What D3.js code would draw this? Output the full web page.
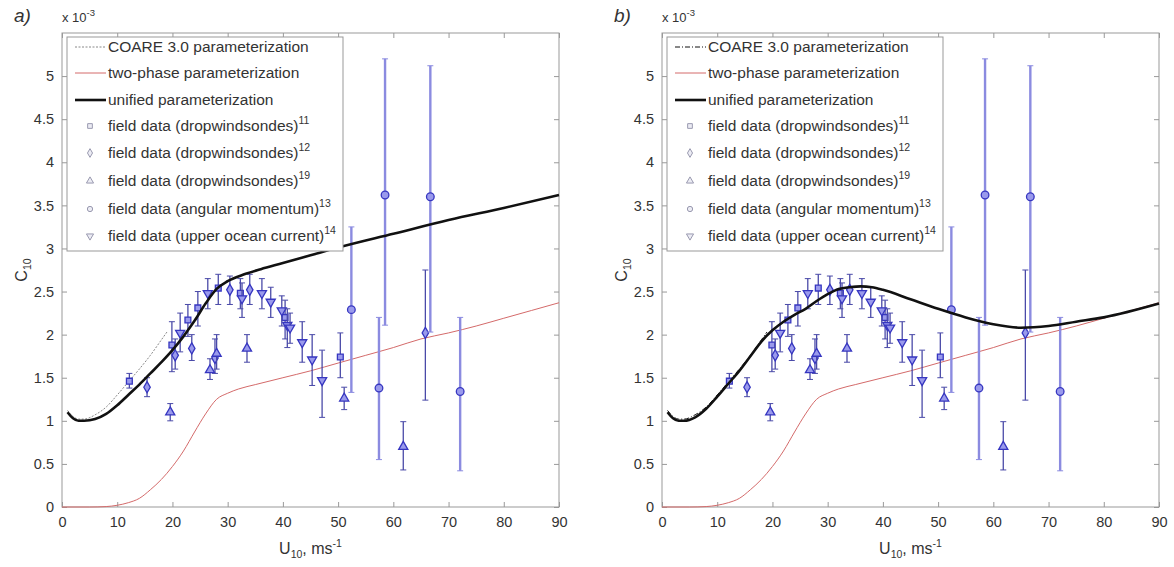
<!DOCTYPE html>
<html lang="en">
<head>
<meta charset="UTF-8">
<script src="https://d3js.org/d3.v7.min.js"></script>
<style>
  body { margin: 0; background: #fff; }
  text { font-family: "Liberation Sans", Arial, sans-serif; fill: #333; }
</style>
</head>
<body>
<div id="chart"></div>
<script>
// ---- curves (C10 in units of 1e-3) ----
const coareU = [1, 2, 3, 4, 6, 8, 10, 12, 14, 16, 18, 19];
const coareC = [1.12, 1.05, 1.02, 1.02, 1.07, 1.16, 1.3, 1.45, 1.6, 1.76, 1.94, 2.03];

const twoPhaseU = [0, 5, 8, 10, 12, 14, 16, 18, 20, 22, 24, 26, 28, 30, 32, 35, 40, 45, 50, 55, 60, 65, 70, 75, 80, 85, 90];
const twoPhaseC = [0, 0, 0.005, 0.02, 0.05, 0.1, 0.2, 0.32, 0.47, 0.65, 0.87, 1.08, 1.25, 1.32, 1.37, 1.42, 1.5, 1.58, 1.67, 1.76, 1.85, 1.95, 2.02, 2.1, 2.19, 2.28, 2.37];

const unifiedAU = [1, 2, 3, 4, 6, 8, 10, 12, 14, 16, 18, 20, 22, 24, 26, 28, 30, 33, 36, 40, 45, 50, 60, 70, 80, 90];
const unifiedAC = [1.1, 1.03, 1.0, 1.0, 1.02, 1.08, 1.18, 1.3, 1.42, 1.55, 1.68, 1.82, 1.98, 2.16, 2.36, 2.53, 2.62, 2.7, 2.76, 2.83, 2.92, 3.01, 3.17, 3.33, 3.47, 3.62];

const unifiedBU = [1, 2, 3, 4, 6, 8, 10, 12, 14, 16, 18, 20, 22, 24, 26, 28, 30, 32, 34, 36, 38, 40, 45, 50, 55, 60, 65, 70, 75, 80, 90];
const unifiedBC = [1.1, 1.03, 1.0, 1.0, 1.04, 1.14, 1.28, 1.43, 1.58, 1.75, 1.92, 2.05, 2.15, 2.23, 2.3, 2.39, 2.47, 2.53, 2.55, 2.56, 2.55, 2.52, 2.41, 2.3, 2.2, 2.12, 2.08, 2.1, 2.15, 2.2, 2.36];

// ---- field data: [U10, C10, low, high] ----
const dropwind11 = [[12.2, 1.46, 1.38, 1.55], [19.9, 1.88, 1.57, 2.15], [22.8, 2.17, 1.98, 2.35], [24.6, 2.31, 2.1, 2.5],
  [28.3, 2.54, 2.35, 2.7], [32.3, 2.48, 2.3, 2.65], [40.4, 2.2, 1.95, 2.4], [50.4, 1.74, 1.5, 2.02]];
const dropwind12 = [[15.4, 1.39, 1.28, 1.5], [20.5, 1.76, 1.6, 1.95], [23.5, 1.84, 1.7, 2.0], [27.7, 1.73, 1.55, 1.95],
  [30.4, 2.52, 2.35, 2.68], [34, 2.52, 2.35, 2.7], [65.8, 2.02, 1.24, 2.75]];
const dropwind19 = [[19.6, 1.1, 1.0, 1.2], [26.8, 1.59, 1.48, 1.72], [28, 1.78, 1.6, 2.0], [33.5, 1.84, 1.68, 2.0],
  [51.1, 1.26, 1.13, 1.39], [61.8, 0.7, 0.43, 0.99]];
const angularMom = [[52.4, 2.29, 1.33, 3.25], [57.4, 1.38, 0.55, 2.2], [58.5, 3.62, 2.11, 5.2], [66.7, 3.6, 2.03, 5.12], [72.1, 1.34, 0.42, 2.2]];
const oceanCurrent = [[21.4, 2.02, 1.8, 2.25], [26.4, 2.48, 2.3, 2.65], [32.6, 2.42, 2.2, 2.6], [36.2, 2.48, 2.3, 2.65],
  [37.8, 2.38, 2.2, 2.55], [39.8, 2.28, 2.1, 2.45], [40.8, 2.11, 1.85, 2.3], [41.3, 2.08, 1.9, 2.25],
  [43.5, 1.91, 1.68, 2.15], [45.3, 1.71, 1.41, 2.0], [47.1, 1.47, 1.04, 1.82]];

const xTicks = d3.range(0, 91, 10);
const yTicks = d3.range(0, 5.01, 0.5);

const width = 1174, height = 567;
const svg = d3.select("#chart").append("svg")
  .attr("width", width).attr("height", height)
  .attr("viewBox", [0, 0, width, height]);

const markerSets = [
  { data: dropwind11,   symbol: d3.symbolSquare,   size: 34, ref: "11", label: "field data (dropwindsondes)", bar: "dark" },
  { data: dropwind12,   symbol: d3.symbolDiamond,  size: 36, ref: "12", label: "field data (dropwindsondes)", bar: "dark" },
  { data: dropwind19,   symbol: d3.symbolTriangle, size: 36, ref: "19", label: "field data (dropwindsondes)", bar: "dark" },
  { data: angularMom,   symbol: d3.symbolCircle,   size: 46, ref: "13", label: "field data (angular momentum)", bar: "light" },
  { data: oceanCurrent, symbol: d3.symbolTriangle, size: 36, ref: "14", label: "field data (upper ocean current)", bar: "dark", flip: true }
];

function drawPanel(ox, tag, unifiedU, unifiedC, coareStyle) {
  const left = ox + 62, right = ox + 559, top = 33, bottom = 507;
  const x = d3.scaleLinear().domain([0, 90]).range([left, right]);
  const y = d3.scaleLinear().domain([0, 5.5]).range([bottom, top]);
  const g = svg.append("g");

  // axes box with inward ticks (MATLAB style)
  g.append("rect").attr("x", left).attr("y", top).attr("width", right - left).attr("height", bottom - top)
    .attr("fill", "none").attr("stroke", "#999").attr("stroke-width", 1);

  const bx = d3.axisBottom(x).tickValues(xTicks).tickSize(-5).tickPadding(10).tickFormat(d3.format("d"));
  const tx = d3.axisTop(x).tickValues(xTicks).tickSize(-5).tickFormat("");
  const ly = d3.axisLeft(y).tickValues(yTicks).tickSize(-5).tickPadding(8).tickFormat(d => d3.format("~g")(d));
  const ry = d3.axisRight(y).tickValues(yTicks).tickSize(-5).tickFormat("");
  [[bx, `translate(0,${bottom})`], [tx, `translate(0,${top})`], [ly, `translate(${left},0)`], [ry, `translate(${right},0)`]]
    .forEach(([ax, tr]) => {
      const a = g.append("g").attr("transform", tr).call(ax);
      a.select(".domain").remove();
      a.selectAll("line").attr("stroke", "#999");
      a.selectAll("text").attr("font-size", 14.5).attr("fill", "#333")
        .attr("font-family", "Liberation Sans, Arial, sans-serif");
    });

  // curves
  const line = (us, cs) => d3.line().x((d, i) => x(us[i])).y(d => y(d)).curve(d3.curveMonotoneX)(cs);
  g.append("path").attr("d", line(twoPhaseU, twoPhaseC)).attr("fill", "none")
    .attr("stroke", "#d46a6a").attr("stroke-width", 1);
  g.append("path").attr("d", line(coareU, coareC)).attr("fill", "none")
    .attr("stroke", coareStyle.color).attr("stroke-width", coareStyle.width)
    .attr("stroke-dasharray", coareStyle.dash);

  // field data: error bars then markers
  markerSets.forEach(s => {
    const gg = g.append("g");
    s.data.forEach(([u, c, lo, hi]) => {
      const col = s.bar === "light" ? "#8b8be0" : "#4a4aa8";
      const w = s.bar === "light" ? 2.4 : 1.3;
      gg.append("line").attr("x1", x(u)).attr("x2", x(u)).attr("y1", y(lo)).attr("y2", y(hi))
        .attr("stroke", col).attr("stroke-width", w);
      [lo, hi].forEach(v => gg.append("line").attr("x1", x(u) - 3).attr("x2", x(u) + 3)
        .attr("y1", y(v)).attr("y2", y(v)).attr("stroke", col).attr("stroke-width", 1));
      gg.append("path").attr("d", d3.symbol(s.symbol, s.size)())
        .attr("transform", `translate(${x(u)},${y(c)})${s.flip ? " rotate(180)" : ""}`)
        .attr("fill", "#9a9aec").attr("stroke", "#3636c0").attr("stroke-width", 1.3);
    });
  });

  // unified curve on top
  g.append("path").attr("d", line(unifiedU, unifiedC)).attr("fill", "none")
    .attr("stroke", "#111").attr("stroke-width", 2.6);

  // legend
  const lgx = ox + 67, lgy = 37;
  g.append("rect").attr("x", lgx).attr("y", lgy).attr("width", 276).attr("height", 214)
    .attr("fill", "#fff").attr("stroke", "#999");
  const rows = [47, 73, 100, 126, 153, 181, 209, 236];
  const lineItems = [
    { label: "COARE 3.0 parameterization", color: coareStyle.color, width: coareStyle.width, dash: coareStyle.dash },
    { label: "two-phase parameterization", color: "#d46a6a", width: 1, dash: null },
    { label: "unified parameterization", color: "#111", width: 2.6, dash: null }
  ];
  lineItems.forEach((it, i) => {
    g.append("line").attr("x1", lgx + 8).attr("x2", lgx + 39).attr("y1", rows[i]).attr("y2", rows[i])
      .attr("stroke", it.color).attr("stroke-width", it.width).attr("stroke-dasharray", it.dash);
    g.append("text").attr("x", lgx + 41).attr("y", rows[i] + 5).attr("font-size", 15.5).text(it.label);
  });
  markerSets.forEach((s, i) => {
    const ry2 = rows[i + 3];
    g.append("path").attr("d", d3.symbol(s.symbol, 22)())
      .attr("transform", `translate(${lgx + 23},${ry2})${s.flip ? " rotate(180)" : ""}`)
      .attr("fill", "#ececf4").attr("stroke", "#9a9ab0").attr("stroke-width", 1);
    const t = g.append("text").attr("x", lgx + 41).attr("y", ry2 + 5).attr("font-size", 15.5);
    t.append("tspan").text(s.label);
    t.append("tspan").attr("dy", -7).attr("font-size", 10.5).text(s.ref);
  });

  // exponent label
  const ex = g.append("text").attr("x", left).attr("y", 22).attr("font-size", 13);
  ex.append("tspan").text("x 10");
  ex.append("tspan").attr("dy", -6).attr("font-size", 9.5).text("-3");

  // panel tag
  g.append("text").attr("x", ox + 14).attr("y", 22).attr("font-size", 19)
    .attr("font-style", "italic").attr("font-family", "Liberation Serif, Times New Roman, serif").text(tag);

  // y label C10
  const yl = g.append("text").attr("transform", `translate(${ox + 27},${(top + bottom) / 2}) rotate(-90)`)
    .attr("text-anchor", "middle").attr("font-size", 16);
  yl.append("tspan").text("C");
  yl.append("tspan").attr("dy", 4).attr("font-size", 10.5).text("10");

  // x label U10, ms-1
  const xl = g.append("text").attr("x", (left + right) / 2).attr("y", 554)
    .attr("text-anchor", "middle").attr("font-size", 16);
  xl.append("tspan").text("U");
  xl.append("tspan").attr("dy", 4).attr("font-size", 10.5).text("10");
  xl.append("tspan").attr("dy", -4).text(", ms");
  xl.append("tspan").attr("dy", -7).attr("font-size", 10.5).text("-1");
}

drawPanel(0, "a)", unifiedAU, unifiedAC, { color: "#888", width: 1, dash: "2,1.5" });
drawPanel(600, "b)", unifiedBU, unifiedBC, { color: "#111", width: 1, dash: "5,2,1,2" });
</script>
</body>
</html>
